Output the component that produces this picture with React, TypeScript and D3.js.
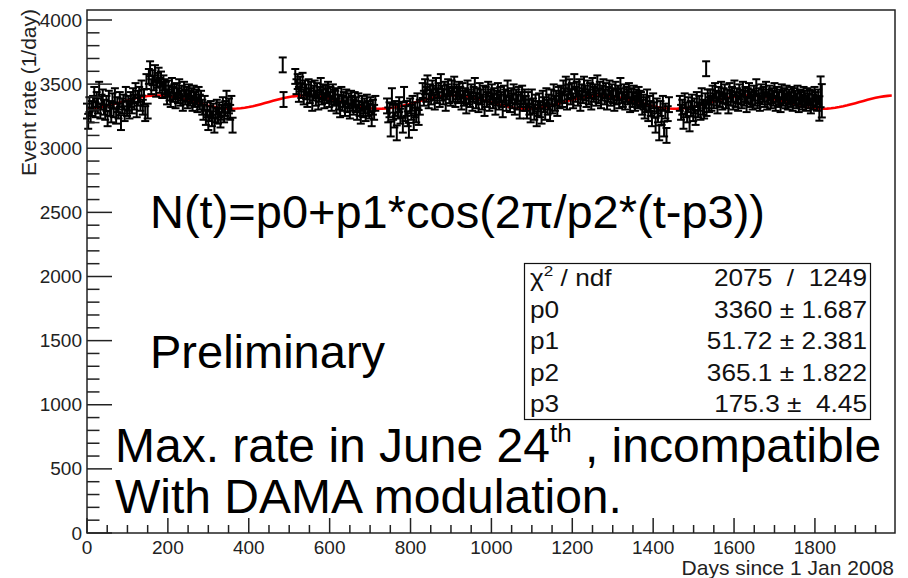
import React from "react";
import * as d3 from "d3";

// ---- data ----
const fitParams = [3360, 51.72, 365.1, 175.3]; // p0, p1, p2, p3
const statLabels = ["χ2 / ndf", "p0", "p1", "p2", "p3"];
const statValues = ["2075  /  1249", "3360 ± 1.687", "51.72 ± 2.381", "365.1 ± 1.822", "175.3 ±  4.45"];
const xTicks = [0, 200, 400, 600, 800, 1000, 1200, 1400, 1600, 1800];
const yTicks = [0, 500, 1000, 1500, 2000, 2500, 3000, 3500, 4000];

const stepDays = 3;
const baseError = 58;

const seg1Start = 0;
const seg1 = [
  3290, 3210, 3340, 3260, 3310,
  3350, 3420, 3300, 3380, 3330, 3460, 3290, 3360, 3400, 3320,
  3280, 3350, 3230, 3390, 3310, 3260, 3370, 3300, 3410, 3250, 3340, 3290, 3380, 3200, 3330, 3360, 3270, 3420, 3310, 3350, 3290,
  3380, 3330, 3410, 3360, 3450, 3300, 3390, 3420, 3350, 3470, 3320, 3400,
  3270, 3520, 3290, 3560,
  3620, 3480, 3550, 3510, 3590, 3460, 3530, 3570, 3490, 3540, 3450, 3510, 3480,
  3460, 3400, 3470, 3430, 3380, 3490, 3420, 3440, 3370, 3450, 3410, 3480, 3390, 3430, 3350, 3460, 3400, 3420, 3370, 3440, 3390, 3410, 3350, 3430, 3380, 3400, 3340, 3420, 3360, 3390,
  3320, 3280, 3350, 3240, 3300, 3200, 3270, 3310, 3230, 3290, 3180, 3260, 3320, 3250, 3300, 3220, 3280, 3340, 3260, 3310, 3390, 3290, 3330, 3280, 3350, 3180,
];

const isolatedDays = [484, 486, 1531];
const isolatedValues = [3650, 3380, 3620];

const seg2Start = 515;
const seg2 = [
  3560, 3480, 3520, 3420, 3500, 3450, 3530, 3400, 3470,
  3440, 3380, 3480, 3410, 3460, 3350, 3430, 3470, 3390, 3450, 3360, 3420, 3490, 3400, 3440, 3370, 3430, 3410, 3460, 3380, 3420, 3350, 3440, 3400,
  3390, 3330, 3410, 3360, 3300, 3420, 3350, 3380, 3310, 3400, 3340, 3370, 3290, 3390, 3350, 3320, 3380,
  3340, 3280, 3370, 3310, 3250, 3350, 3300, 3330, 3270, 3360, 3310, 3290, 3340, 3230, 3320, 3280, 3350,
];

const seg3Start = 742;
const seg3 = [
  3330, 3260, 3300, 3150, 3410, 3280, 3220, 3310, 3120, 3290, 3340, 3250, 3300, 3180,
  3420, 3270, 3310, 3230, 3140, 3330, 3280, 3350, 3200, 3300, 3260, 3370, 3240, 3320,
];

const seg4Start = 830;
const seg4 = [
  3450, 3390, 3480, 3420, 3510, 3370, 3440, 3400, 3470, 3430, 3360, 3490, 3410, 3450, 3380, 3520, 3430, 3400, 3460, 3350, 3440, 3480, 3410, 3390, 3470, 3420, 3500, 3380, 3440, 3410, 3460,
  3420, 3360, 3450, 3390, 3410, 3330, 3470, 3400, 3380, 3440, 3350, 3420, 3490, 3370, 3410, 3340, 3450, 3400, 3360, 3430, 3310, 3420, 3380, 3460, 3350, 3400, 3440, 3370, 3410, 3320, 3390, 3450, 3360, 3420, 3380, 3300, 3430, 3400, 3350, 3470, 3390, 3340, 3410, 3370, 3440, 3320, 3400, 3360, 3420, 3290, 3380, 3430, 3350, 3400,
  3350, 3290, 3380, 3320, 3260, 3400, 3330, 3280, 3360, 3230, 3310, 3370, 3300, 3250, 3390, 3340, 3280, 3410, 3320, 3360, 3270, 3400, 3330, 3440, 3350, 3390, 3310, 3420, 3370,
  3430, 3380, 3470, 3410, 3500, 3360, 3440, 3480, 3400, 3450, 3370, 3520, 3420, 3460, 3390, 3480, 3350, 3440, 3410, 3500, 3430, 3380, 3470, 3400, 3450, 3360, 3490, 3420, 3440, 3390, 3510, 3410, 3460, 3370, 3430, 3480, 3400, 3450, 3360, 3420, 3470, 3390, 3440, 3410, 3350, 3460, 3400, 3430, 3370, 3490, 3410, 3380, 3440, 3360, 3420, 3400, 3450, 3340, 3410, 3380, 3430, 3350, 3400, 3370, 3420, 3390,
  3380, 3320, 3360, 3290, 3340, 3400, 3270, 3350, 3310, 3230, 3370, 3300, 3180, 3330, 3260, 3120, 3310, 3240, 3350, 3150, 3290, 3100, 3270, 3340,
];

const seg5Start = 1466;
const seg5 = [
  3350, 3280, 3320, 3210, 3370, 3300, 3260, 3340, 3190, 3310, 3360, 3270, 3330, 3240, 3380, 3300, 3350, 3280, 3410, 3320, 3290, 3370, 3310, 3400, 3340,
  3400, 3350, 3430, 3370, 3450, 3390, 3330, 3420, 3380, 3460, 3360, 3410, 3440, 3370, 3400, 3330, 3450, 3390, 3420, 3360, 3470, 3380, 3410, 3350, 3440, 3400, 3370, 3460, 3390, 3420, 3340, 3410, 3450, 3380, 3400, 3360, 3430, 3390, 3480, 3370, 3410, 3350, 3440, 3400, 3420, 3380, 3460, 3360, 3400, 3430, 3370, 3410, 3390, 3450, 3350, 3420, 3380, 3400, 3340, 3440, 3390, 3410, 3370, 3430, 3360, 3400, 3380, 3420, 3350, 3410, 3390, 3370, 3430, 3340, 3400, 3380, 3360, 3420, 3390, 3350, 3410, 3370, 3400, 3330, 3390, 3360, 3420, 3380, 3350, 3400, 3310, 3440, 3370,
];
const seg5TailErrors = [95, 120, 130];

const W = 908;
const H = 578;
const frame = { left: 87, right: 895, top: 10, bottom: 533 };

type Pt = { day: number; value: number; err: number };

function buildPoints(): Pt[] {
  const pts: Pt[] = [];
  const segs: [number, number[]][] = [
    [seg1Start, seg1],
    [seg2Start, seg2],
    [seg3Start, seg3],
    [seg4Start, seg4],
    [seg5Start, seg5],
  ];
  segs.forEach(([start, vals], si) => {
    vals.forEach((v, i) => {
      let err = baseError;
      if (si === 4) {
        const k = i - (vals.length - seg5TailErrors.length);
        if (k >= 0) err = seg5TailErrors[k];
      }
      pts.push({ day: start + i * stepDays, value: v, err });
    });
  });
  isolatedDays.forEach((d, i) => pts.push({ day: d, value: isolatedValues[i], err: baseError }));
  return pts;
}

export default function App() {
  const x = d3.scaleLinear().domain([0, 1998]).range([frame.left, frame.right]);
  const y = d3.scaleLinear().domain([0, 4078]).range([frame.bottom, frame.top]);
  const pts = buildPoints();

  const [p0, p1, p2, p3] = fitParams;
  const fitDays = d3.range(0, 1991, 10);
  const fitLine = d3
    .line<number>()
    .x((d) => x(d))
    .y((d) => y(p0 + p1 * Math.cos(((2 * Math.PI) / p2) * (d - p3))));

  const xMinor = d3.range(0, 1998, 50);
  const yMinor = d3.range(0, 4078, 100);
  const font = "'Liberation Sans', Arial, Helvetica, sans-serif";
  const axisColor = "#222";

  const capHalf = 4;
  const statRowY = [286, 318, 349, 381, 412];
  const statScale = 1.14;

  return (
    <svg
      width={W}
      height={H}
      viewBox={`0 0 ${W} ${H}`}
      style={{ position: "absolute", left: 0, top: 0, background: "#fff" }}
      fontFamily={font}
    >
      <rect x={0} y={0} width={W} height={H} fill="#fff" />

      {/* fit curve */}
      <path d={fitLine(fitDays) || ""} fill="none" stroke="#ff0000" strokeWidth={2.6} />

      {/* data points with error bars */}
      <g stroke="#000" strokeWidth={2}>
        {pts.map((p, i) => {
          const cx = x(p.day);
          const yt = y(p.value + p.err);
          const yb = y(p.value - p.err);
          return (
            <g key={i}>
              <line x1={cx} x2={cx} y1={yt} y2={yb} />
              <line x1={cx - capHalf} x2={cx + capHalf} y1={yt} y2={yt} />
              <line x1={cx - capHalf} x2={cx + capHalf} y1={yb} y2={yb} />
            </g>
          );
        })}
      </g>

      {/* frame */}
      <rect
        x={frame.left}
        y={frame.top}
        width={frame.right - frame.left}
        height={frame.bottom - frame.top}
        fill="none"
        stroke={axisColor}
        strokeWidth={1.5}
      />

      {/* ticks */}
      <g stroke={axisColor} strokeWidth={1.5}>
        {yMinor.map((v) => (
          <line key={"ym" + v} x1={frame.left} x2={frame.left + (v % 500 === 0 ? 25 : 12.5)} y1={y(v)} y2={y(v)} />
        ))}
        {xMinor.map((v) => (
          <line key={"xm" + v} x1={x(v)} x2={x(v)} y1={frame.bottom} y2={frame.bottom - (v % 200 === 0 ? 15 : 8)} />
        ))}
      </g>
      <g fill={axisColor} fontSize={19}>
        {yTicks.map((v) => (
          <text key={"yl" + v} x={82} y={y(v)} textAnchor="end" dominantBaseline="central">
            {v}
          </text>
        ))}
        {xTicks.map((v) => (
          <text key={"xl" + v} x={x(v)} y={554} textAnchor="middle">
            {v}
          </text>
        ))}
      </g>

      {/* axis titles */}
      <text x={894} y={575} textAnchor="end" fontSize={21} fill={axisColor}>
        Days since 1 Jan 2008
      </text>
      <text transform={`translate(36,9) rotate(-90)`} textAnchor="end" fontSize={21} fill={axisColor}>
        Event rate (1/day)
      </text>

      {/* stats box */}
      <rect x={524.5} y={263.5} width={346} height={156} fill="#fff" stroke="#111" strokeWidth={1.2} />
      <g fontSize={23} fill="#111">
        {statLabels.map((s, i) => (
          <text key={"sl" + i} transform={`translate(530,${statRowY[i]}) scale(${statScale},1)`}>
            {i === 0 ? (
              <>
                χ<tspan dy={-10} fontSize={15}>2</tspan>
                <tspan dy={10}> / ndf</tspan>
              </>
            ) : (
              s
            )}
          </text>
        ))}
        {statValues.map((s, i) => (
          <text
            key={"sv" + i}
            transform={`translate(867,${statRowY[i]}) scale(${statScale},1)`}
            textAnchor="end"
            style={{ whiteSpace: "pre" }}
          >
            {s}
          </text>
        ))}
      </g>

      {/* annotations */}
      <g fill="#000">
        <text x={150} y={228} fontSize={47}>
          N(t)=p0+p1*cos(2π/p2*(t-p3))
        </text>
        <text x={150} y={368} fontSize={47}>
          Preliminary
        </text>
        <text x={115} y={462} fontSize={48}>
          Max. rate in June 24<tspan dy={-20} fontSize={26}>th</tspan>
          <tspan dy={20}> , incompatible</tspan>
        </text>
        <text x={115} y={513} fontSize={48}>
          With DAMA modulation.
        </text>
      </g>
    </svg>
  );
}
